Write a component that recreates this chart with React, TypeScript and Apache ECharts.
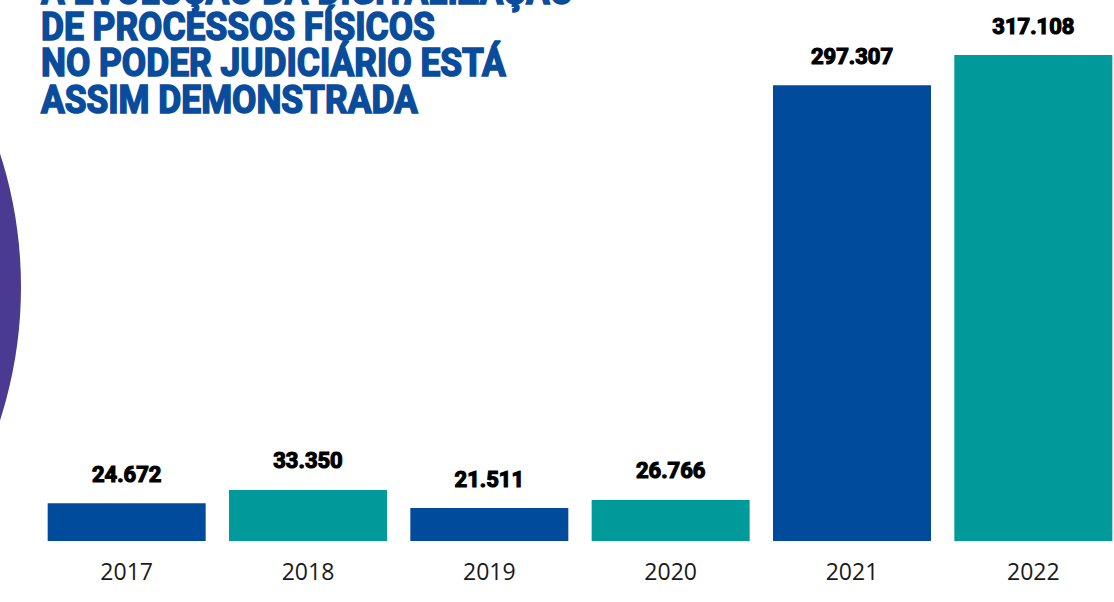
import React, { useEffect, useRef } from "react";
import * as echarts from "echarts";

const years = ["2017", "2018", "2019", "2020", "2021", "2022"];
const values = [24672, 33350, 21511, 26766, 297307, 317108];
const barColors = ["#004b9b", "#009a9b", "#004b9b", "#009a9b", "#004b9b", "#009a9b"];
const titleLines = [
  "A EVOLUÇÃO DA DIGITALIZAÇÃO",
  "DE PROCESSOS FÍSICOS",
  "NO PODER JUDICIÁRIO ESTÁ",
  "ASSIM DEMONSTRADA",
];

const fmt = (v: number) => v.toLocaleString("de-DE");

export default function App() {
  const ref = useRef<HTMLDivElement>(null);
  useEffect(() => {
    if (!ref.current) return;
    const chart = echarts.init(ref.current, null, { renderer: "svg" });
    const titleY = [-9, 27, 63, 100];
    chart.setOption({
      animation: false,
      backgroundColor: "#ffffff",
      grid: { left: 36, top: 0, width: 1088, height: 541, outerBoundsMode: "none", containLabel: false },
      xAxis: {
        type: "category",
        data: years,
        axisLine: { show: false },
        axisTick: { show: false },
        axisLabel: {
          margin: 18,
          fontSize: 23,
          fontFamily: "Open Sans",
          color: "#1a1a1a",
        },
      },
      yAxis: {
        type: "value",
        min: 0,
        max: 353000,
        show: false,
        splitLine: { show: false },
      },
      graphic: [
        {
          type: "circle",
          shape: { cx: -414, cy: 287, r: 435 },
          style: { fill: "#4a3a92" },
          z: -1,
        },
        {
          type: "group",
          x: 41,
          y: 0,
          scaleX: 0.93,
          children: titleLines.map((t, i) => ({
            type: "text",
            x: 0,
            y: titleY[i],
            style: {
              text: t,
              fill: "#0a4c9c",
              stroke: "#0a4c9c",
              lineWidth: 1.6,
              font: "bold 38px Roboto, 'Noto Sans', sans-serif",
              verticalAlign: "middle",
              align: "left",
            },
          })),
        },
      ],
      series: [
        {
          type: "bar",
          data: values.map((v, i) => ({ value: v, itemStyle: { color: barColors[i] } })),
          barWidth: 158,
          label: {
            show: true,
            position: "top",
            distance: 18,
            formatter: (p: any) => fmt(p.value),
            fontSize: 22,
            fontWeight: "bold",
            fontFamily: "Roboto, 'Noto Sans', sans-serif",
            color: "#000000",
            textBorderColor: "#000000",
            textBorderWidth: 1.2,
          },
        },
      ],
    });
    return () => chart.dispose();
  }, []);
  return (
    <div
      ref={ref}
      style={{ position: "fixed", left: 0, top: 0, width: 1114, height: 602 }}
    />
  );
}
